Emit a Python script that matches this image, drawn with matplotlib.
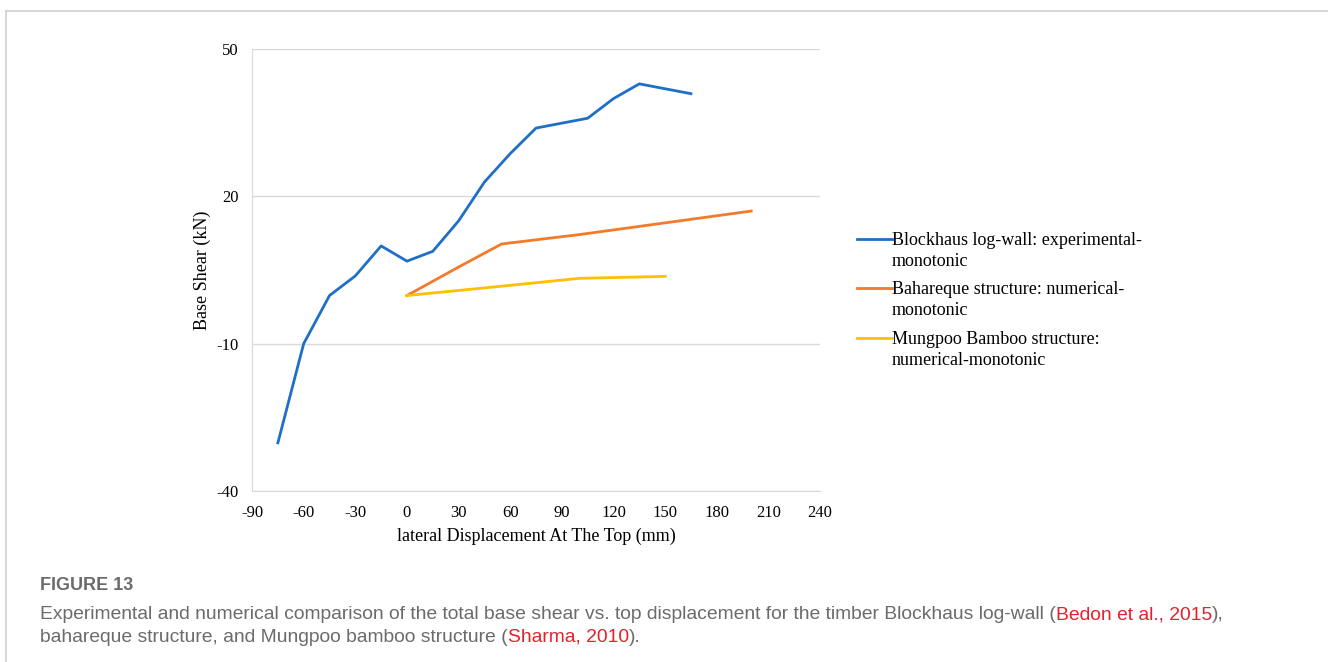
import matplotlib
matplotlib.use("Agg")
import matplotlib.pyplot as plt
from matplotlib.lines import Line2D
from matplotlib.text import Annotation

# data
blk_x = [-75, -60, -45, -30, -15, 0, 15, 30, 45, 60, 75, 105, 120, 135, 165]
blk_y = [-30.2, -10, -0.2, 3.8, 9.9, 6.8, 8.8, 15.0, 22.9, 28.7, 33.9, 35.9, 39.9, 42.9, 40.9]
bah_x = [0, 30, 55, 100, 150, 200]
bah_y = [-0.2, 5.6, 10.3, 12.2, 14.6, 17.0]
mun_x = [0, 55, 100, 150]
mun_y = [-0.2, 1.7, 3.3, 3.7]

labels = ["Blockhaus log-wall: experimental-\nmonotonic",
          "Bahareque structure: numerical-\nmonotonic",
          "Mungpoo Bamboo structure:\nnumerical-monotonic"]
colors = ["#1F6FC8", "#F47A2A", "#FFC000"]

xticks = list(range(-90, 241, 30))
yticks = [-40, -10, 20, 50]

serif = ["Liberation Serif", "DejaVu Serif"]
W, H = 1328, 662

fig = plt.figure(figsize=(13.28, 6.62), dpi=100)
ax = fig.add_axes([0.1898, 0.2583, 0.4277, 0.6677])

ax.plot(blk_x, blk_y, color=colors[0], lw=2)
ax.plot(bah_x, bah_y, color=colors[1], lw=2)
ax.plot(mun_x, mun_y, color=colors[2], lw=2)

ax.set_xlim(-90, 240)
ax.set_ylim(-40, 50)
ax.set_xticks(xticks)
ax.set_yticks(yticks)
ax.set_xticklabels([str(v) for v in xticks], family=serif, fontsize=12)
ax.set_yticklabels([str(v) for v in yticks], family=serif, fontsize=12)
ax.tick_params(axis="x", length=0, pad=10)
ax.tick_params(axis="y", length=0, pad=9.5)
ax.grid(axis="y", color="#D9D9D9", lw=1)
for s in ["top", "right"]:
    ax.spines[s].set_visible(False)
for s in ["left", "bottom"]:
    ax.spines[s].set_color("#D9D9D9")
ax.set_axisbelow(True)

ax.set_xlabel("lateral Displacement At The Top (mm)", family=serif, fontsize=13, labelpad=5)
ax.set_ylabel("Base Shear (kN)", family=serif, fontsize=13, labelpad=4)

# legend, handle level with the first line of each label
leg_rows = [239, 288, 338]
for lab, c, yp in zip(labels, colors, leg_rows):
    yf = 1 - yp / H
    fig.add_artist(Line2D([857 / W, 892 / W], [yf, yf], color=c, lw=2,
                          transform=fig.transFigure))
    fig.text(892 / W, yf + 7 / H, lab, family=serif, fontsize=13, va="top",
             ha="left", linespacing=1.32)

# outer frame (top and left only)
fig.add_artist(Line2D([0.0045, 1], [0.984, 0.984], color="#D0D0D0", lw=1.2,
                      transform=fig.transFigure))
fig.add_artist(Line2D([0.0045, 0.0045], [0, 0.984], color="#D0D0D0", lw=1.2,
                      transform=fig.transFigure))

# caption
cap = ["Liberation Sans", "DejaVu Sans"]
grey = "#6B6B6B"
red = "#E3222B"
fig.text(40 / W, 1 - 585 / H, "FIGURE 13", family=cap, fontsize=13,
         fontweight="bold", color=grey, va="center")


def line_parts(parts, ybot):
    prev = fig.text(40 / W, 1 - ybot / H, parts[0][0], family=cap, fontsize=13.9,
                    color=parts[0][1], va="bottom")
    for s, c in parts[1:]:
        prev = fig.add_artist(Annotation(
            s, xy=(1, 0), xycoords=prev, va="bottom", ha="left",
            family=cap, fontsize=13.9, color=c))


line_parts([("Experimental and numerical comparison of the total base shear vs. top displacement "
             "for the timber Blockhaus log-wall (", grey),
            ("Bedon et al., 2015", red), ("),", grey)], 623)
line_parts([("bahareque structure, and Mungpoo bamboo structure (", grey),
            ("Sharma, 2010", red), (").", grey)], 646)

fig.savefig("out.png", dpi=100)
